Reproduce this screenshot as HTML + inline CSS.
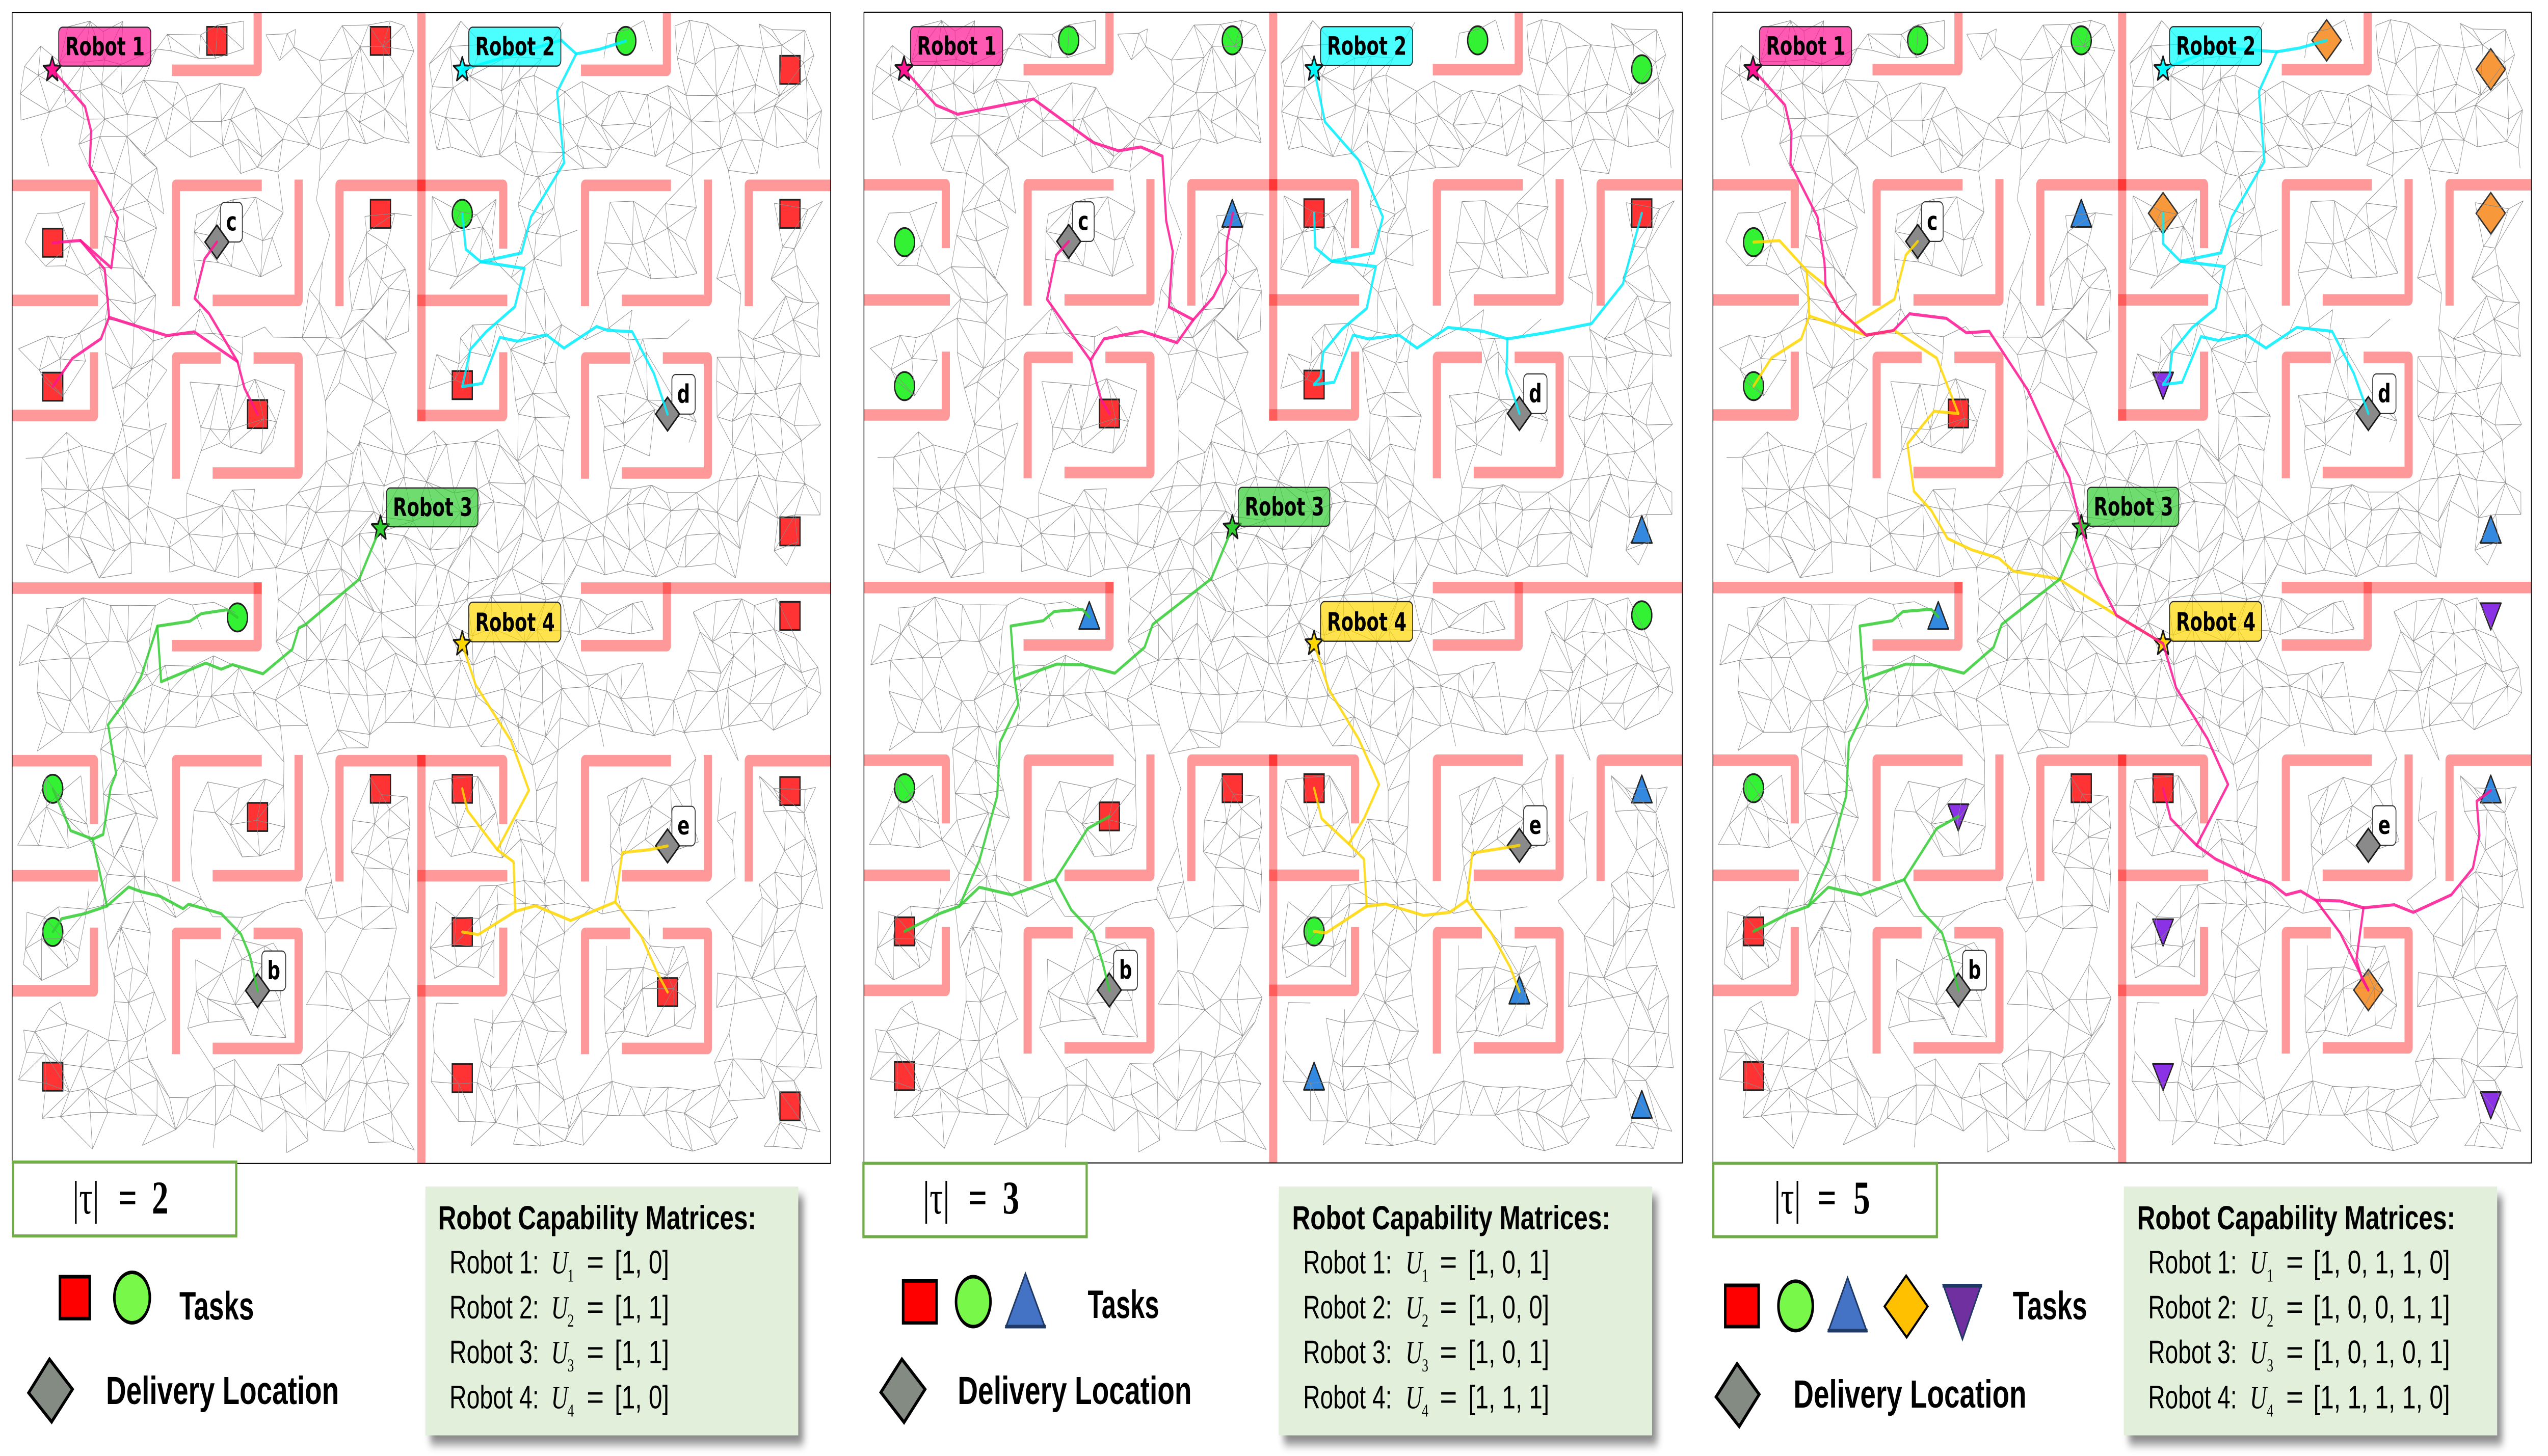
<!DOCTYPE html>
<html><head><meta charset="utf-8"><title>Multi-robot task allocation maps</title>
<style>
html,body{margin:0;padding:0;background:#fff;width:100%;height:100%;overflow:hidden;}
svg#root{display:block;position:absolute;left:0;top:0;width:100vw;height:100vh}
.sq{fill:#ff3333;stroke:#222;stroke-width:2.2}
.ci{fill:#33f233;stroke:#222;stroke-width:2.4}
.tu{fill:#3388e0;stroke:#222;stroke-width:2.2;stroke-linejoin:round}
.td{fill:#8c32e6;stroke:#222;stroke-width:2.2;stroke-linejoin:round}
.od{fill:#f7983a;stroke:#333;stroke-width:2.2}
.gd{fill:#8a8a8a;stroke:#1a1a1a;stroke-width:2.4}
.lb{fill:#fff;stroke:#333;stroke-width:1.5}
.lt{font-family:"DejaVu Sans","Liberation Sans",sans-serif;font-weight:bold;font-size:33.5px;fill:#000}
.mesh{fill:none;stroke:#8a8a8a;stroke-width:0.75}
.pk,.cy,.gr,.ye{fill:none;stroke-width:4;stroke-linejoin:round;stroke-linecap:round}
.pk{stroke:#ff1493;stroke-opacity:0.85}
.cy{stroke:#00eeff;stroke-opacity:0.85}
.gr{stroke:#32cd32;stroke-opacity:0.85}
.ye{stroke:#ffd700;stroke-opacity:0.85}
.st{stroke:#1a1a1a;stroke-width:2.6;stroke-linejoin:round}
.rl{stroke:#2a2a2a;stroke-width:1.6}
.bd{fill:none;stroke:#000;stroke-width:1.4}
.sans{font-family:"Liberation Sans",Arial,sans-serif}
.serif{font-family:"Liberation Serif","Times New Roman",serif}
</style></head>
<body>
<svg id="root" viewBox="0 0 7032 2858" preserveAspectRatio="none" xmlns="http://www.w3.org/2000/svg">
<defs>
  <clipPath id="cu"><rect x="0" y="0" width="10" height="10"/></clipPath>
  <g id="quad">
    <polyline points="2,0.5 3,0.5 3,0"/>
    <polyline points="0,1.5 1,1.5 1,2"/>
    <polyline points="0,2.5 1,2.5"/>
    <polyline points="2,2.5 2,1.5 3,1.5"/>
    <polyline points="3.5,1.5 3.5,2.5 2.5,2.5"/>
    <polyline points="4,2.5 4,1.5 5,1.5"/>
    <polyline points="1,3 1,3.5 0,3.5"/>
    <polyline points="2,4 2,3 2.5,3"/>
    <polyline points="3,3 3.5,3 3.5,4 2.5,4"/>
  </g>
  <g id="walls" transform="translate(27,16) scale(151.1)" fill="none" stroke="#ff0000" stroke-opacity="0.4" stroke-width="0.1" stroke-linecap="square" stroke-linejoin="round" clip-path="url(#cu)">
    <use href="#quad"/>
    <use href="#quad" transform="translate(5,0)"/>
    <use href="#quad" transform="translate(0,5)"/>
    <use href="#quad" transform="translate(5,5)"/>
    <path d="M5,0V3.5M5,6.5V10M0,5H3M7,5H10"/>
  </g>
  <rect id="sQ" x="-18.5" y="-18.5" width="37" height="37"/>
  <circle id="cI" cx="0" cy="0" r="18.5"/>
  <path id="tU" d="M0,-20L19,16L-19,16Z"/>
  <path id="tD" d="M-19,-16L19,-16L0,19Z"/>
  <path id="oD" d="M0,-27L27,0L0,27L-27,0Z"/>
  <path id="gD" d="M0,-22L22,0L0,22L-22,0Z"/>
  <path id="star" d="M0,-17L4.3,-5.9L16.2,-5.3L6.9,2.2L10,13.8L0,7.2L-10,13.8L-6.9,2.2L-16.2,-5.3L-4.3,-5.9Z"/>
  <filter id="sh" x="-5%" y="-5%" width="115%" height="125%">
    <feDropShadow dx="14" dy="18" stdDeviation="9" flood-color="#000" flood-opacity="0.45"/>
  </filter>
</defs>
<rect width="7032" height="2858" fill="#fff"/>

<!-- ================= PANEL 1 ================= -->
<g transform="translate(-6.86,1.08) scale(1.4949)">
  <use href="#walls"/>
  <g>
    <use href="#sQ" class="sq" x="405" y="53"/><use href="#sQ" class="sq" x="707" y="53"/>
    <use href="#sQ" class="sq" x="102" y="318"/><use href="#sQ" class="sq" x="707" y="280"/>
    <use href="#sQ" class="sq" x="102" y="507"/><use href="#sQ" class="sq" x="480" y="543"/>
    <use href="#sQ" class="sq" x="1463" y="91"/><use href="#sQ" class="sq" x="1463" y="280"/>
    <use href="#sQ" class="sq" x="858" y="505"/><use href="#sQ" class="sq" x="1463" y="697"/>
    <use href="#sQ" class="sq" x="1463" y="808"/><use href="#sQ" class="sq" x="707" y="1035"/>
    <use href="#sQ" class="sq" x="858" y="1035"/><use href="#sQ" class="sq" x="1463" y="1038"/>
    <use href="#sQ" class="sq" x="858" y="1223"/><use href="#sQ" class="sq" x="1237" y="1302"/>
    <use href="#sQ" class="sq" x="858" y="1415"/><use href="#sQ" class="sq" x="1463" y="1452"/>
    <use href="#sQ" class="sq" x="480" y="1072"/><use href="#sQ" class="sq" x="102" y="1413"/>
    <use href="#cI" class="ci" x="1160" y="53"/><use href="#cI" class="ci" x="858" y="280"/>
    <use href="#cI" class="ci" x="443" y="810"/><use href="#cI" class="ci" x="102" y="1035"/>
    <use href="#cI" class="ci" x="102" y="1223"/>
  </g>
  <path class="mesh" d=""/>
  <g>
    <rect class="lb" x="412" y="265" width="40" height="52" rx="7"/>
    <rect class="lb" x="1245" y="491" width="43" height="52" rx="7"/>
    <rect class="lb" x="1245" y="1058" width="43" height="52" rx="7"/>
    <rect class="lb" x="488" y="1248" width="44" height="52" rx="7"/>
    <text class="lt" x="432" y="302" text-anchor="middle">c</text>
    <text class="lt" x="1266.5" y="528" text-anchor="middle">d</text>
    <text class="lt" x="1266.5" y="1095" text-anchor="middle">e</text>
    <text class="lt" x="510" y="1285" text-anchor="middle">b</text>
    <use href="#gD" class="gd" x="405" y="317"/><use href="#gD" class="gd" x="1237" y="543"/>
    <use href="#gD" class="gd" x="1237" y="1110"/><use href="#gD" class="gd" x="480" y="1300"/>
  </g>
  <use href="#star" class="st" x="101" y="91" fill="#ff1493"/>
  <use href="#star" class="st" x="858" y="91" fill="#00ffff"/>
  <use href="#star" class="st" x="707" y="693" fill="#32cd32"/>
  <use href="#star" class="st" x="858" y="845" fill="#ffd700"/>
  <g>
    <polyline class="pk" points="102,91 161.5,139.3 173,172 170,217 222,285 210,351 153,315 102,318"/>
    <polyline class="pk" points="153,315 198,353 206,416 191,444 138,470 102,507"/>
    <polyline class="pk" points="206,416 312.5,440 363,435 443,474 456,509 480,543"/>
    <polyline class="pk" points="443,474 390.5,411 364,391 382.5,339 405,317"/>
    <polyline class="cy" points="858,91 1040.7,52 1068.4,70 1111,64 1160,53"/>
    <polyline class="cy" points="1068.4,70 1033,120 1046,213 985,284 967,331.5 892,343 864.5,326.5 858,280"/>
    <polyline class="cy" points="892,343 972.8,351.7 955,402 902,435 873,458 858,507"/>
    <polyline class="cy" points="858,507 894.7,502.7 927.4,442.3 960,447.3 1013,438.8 1045.7,456.4 1106,428 1126,433 1171.6,434.8 1212,490 1237,543"/>
    <polyline class="gr" points="705,695 667.5,760 569,819 556,824 544,852 490,884 434,872 413,878 384.5,870 302,894.5 295,821.5 355,815 376.5,805 423,800 443,810"/>
    <polyline class="gr" points="295,821.5 264.7,888.4 252,904.5 204,951 219,1015 209,1033 195,1095 175.6,1101 135,1090 102,1035"/>
    <polyline class="gr" points="175.6,1101 202,1189 242,1164 264.7,1170 300,1176 342.7,1192.5 352.8,1186.5 413,1199 449.5,1226 466,1254.5 480,1300"/>
    <polyline class="gr" points="202,1189 160.5,1199 118.7,1205.6 102,1223"/>
    <polyline class="ye" points="858,845 882.6,898.5 948,972 981,1037 922.7,1115"/>
    <polyline class="ye" points="858,1035 867.6,1063.6 922.7,1115 952.8,1131 955.8,1196 993,1188.5 1058,1208 1140.5,1183.6 1153.5,1118.7 1203.7,1115 1237,1110"/>
    <polyline class="ye" points="858,1223 887.6,1226.4 955.8,1196"/>
    <polyline class="ye" points="1140.5,1183.6 1188.6,1228.8 1218.7,1277.6 1237,1302"/>
  </g>
  <g>
    <rect class="rl" x="113" y="35" width="170" height="51" rx="7" fill="#ff1493" fill-opacity="0.7"/>
    <text class="lt" x="125" y="72">Robot 1</text>
    <rect class="rl" x="870" y="35" width="170" height="51" rx="7" fill="#00ffff" fill-opacity="0.7"/>
    <text class="lt" x="882" y="72">Robot 2</text>
    <rect class="rl" x="718" y="640" width="169" height="51" rx="7" fill="#32cd32" fill-opacity="0.7"/>
    <text class="lt" x="730" y="677">Robot 3</text>
    <rect class="rl" x="870" y="790" width="170" height="52" rx="7" fill="#ffd700" fill-opacity="0.7"/>
    <text class="lt" x="882" y="828">Robot 4</text>
  </g>
  <rect class="bd" x="27" y="16" width="1511" height="1511"/>
</g>

<!-- ================= PANEL 2 ================= -->
<g transform="translate(2344,0) scale(1.4949)">
  <use href="#walls"/>
  <g>
    <use href="#cI" class="ci" x="405" y="53"/><use href="#cI" class="ci" x="707" y="53"/>
    <use href="#cI" class="ci" x="1160" y="53"/><use href="#cI" class="ci" x="1463" y="91"/>
    <use href="#cI" class="ci" x="102" y="318"/><use href="#cI" class="ci" x="102" y="507"/>
    <use href="#cI" class="ci" x="1463" y="808"/><use href="#cI" class="ci" x="102" y="1035"/>
    <use href="#cI" class="ci" x="858" y="1223"/>
    <use href="#tU" class="tu" x="707" y="282"/><use href="#tU" class="tu" x="1463" y="697"/>
    <use href="#tU" class="tu" x="443" y="810"/><use href="#tU" class="tu" x="1463" y="1038"/>
    <use href="#tU" class="tu" x="1237" y="1302"/><use href="#tU" class="tu" x="858" y="1415"/>
    <use href="#tU" class="tu" x="1463" y="1452"/>
    <use href="#sQ" class="sq" x="858" y="280"/><use href="#sQ" class="sq" x="1463" y="280"/>
    <use href="#sQ" class="sq" x="480" y="543"/><use href="#sQ" class="sq" x="858" y="505"/>
    <use href="#sQ" class="sq" x="480" y="1072"/><use href="#sQ" class="sq" x="707" y="1035"/>
    <use href="#sQ" class="sq" x="858" y="1035"/><use href="#sQ" class="sq" x="102" y="1223"/>
    <use href="#sQ" class="sq" x="102" y="1413"/>
  </g>
  <path class="mesh" d=""/>
  <g>
    <rect class="lb" x="412" y="265" width="40" height="52" rx="7"/>
    <rect class="lb" x="1245" y="491" width="43" height="52" rx="7"/>
    <rect class="lb" x="1245" y="1058" width="43" height="52" rx="7"/>
    <rect class="lb" x="488" y="1248" width="44" height="52" rx="7"/>
    <text class="lt" x="432" y="302" text-anchor="middle">c</text>
    <text class="lt" x="1266.5" y="528" text-anchor="middle">d</text>
    <text class="lt" x="1266.5" y="1095" text-anchor="middle">e</text>
    <text class="lt" x="510" y="1285" text-anchor="middle">b</text>
    <use href="#gD" class="gd" x="405" y="317"/><use href="#gD" class="gd" x="1237" y="543"/>
    <use href="#gD" class="gd" x="1237" y="1110"/><use href="#gD" class="gd" x="480" y="1300"/>
  </g>
  <use href="#star" class="st" x="101" y="91" fill="#ff1493"/>
  <use href="#star" class="st" x="858" y="91" fill="#00ffff"/>
  <use href="#star" class="st" x="707" y="693" fill="#32cd32"/>
  <use href="#star" class="st" x="858" y="845" fill="#ffd700"/>
  <g>
    <polyline class="pk" points="101,91 160,138 200,150 340,130 450,187 497,198 538,193 578,205 585,290 597,330 590,403 635,420 672,390 695,358 697,318 708,280"/>
    <polyline class="pk" points="635,420 605,450 540,435 470,445 445,473 365,393 382,335 405,317"/>
    <polyline class="pk" points="445,473 465,525 480,543"/>
    <polyline class="cy" points="858,91 878,160 940,210 985,285 968,332 890,343 860,325 858,280"/>
    <polyline class="cy" points="890,343 972,350 955,405 910,432 875,462 870,495 858,505"/>
    <polyline class="cy" points="858,505 895,502 930,440 958,445 1015,440 1048,457 1105,430 1170,435 1215,445 1285,437 1370,425 1428,373 1463,280"/>
    <polyline class="cy" points="1215,445 1213,490 1237,543"/>
    <polyline class="gr" points="707,693 668,760 560,820 545,850 490,884 432,873 383,872 305,892 298,822 358,815 378,803 430,800 443,810"/>
    <polyline class="gr" points="305,892 312,925 278,975 273,1045 240,1130 203,1190 165,1200 102,1223"/>
    <polyline class="gr" points="203,1190 240,1165 300,1175 380,1155 440,1088 480,1072"/>
    <polyline class="gr" points="380,1155 410,1195 450,1225 468,1265 480,1300"/>
    <polyline class="ye" points="858,845 885,905 940,970 978,1030 950,1075 922,1108"/>
    <polyline class="ye" points="858,1035 872,1075 922,1108 950,1128 955,1190 990,1187 1060,1202 1108,1198 1140,1182 1150,1120 1195,1115 1237,1110"/>
    <polyline class="ye" points="858,1223 880,1225 955,1190"/>
    <polyline class="ye" points="1140,1182 1185,1225 1220,1270 1237,1302"/>
  </g>
  <g>
    <rect class="rl" x="113" y="35" width="170" height="51" rx="7" fill="#ff1493" fill-opacity="0.7"/>
    <text class="lt" x="125" y="72">Robot 1</text>
    <rect class="rl" x="870" y="35" width="170" height="51" rx="7" fill="#00ffff" fill-opacity="0.7"/>
    <text class="lt" x="882" y="72">Robot 2</text>
    <rect class="rl" x="718" y="640" width="169" height="51" rx="7" fill="#32cd32" fill-opacity="0.7"/>
    <text class="lt" x="730" y="677">Robot 3</text>
    <rect class="rl" x="870" y="790" width="170" height="52" rx="7" fill="#ffd700" fill-opacity="0.7"/>
    <text class="lt" x="882" y="828">Robot 4</text>
  </g>
  <rect class="bd" x="27" y="16" width="1511" height="1511"/>
</g>

<!-- ================= PANEL 3 ================= -->
<g transform="translate(4687,0) scale(1.4949)">
  <use href="#walls"/>
  <g>
    <use href="#cI" class="ci" x="405" y="53"/><use href="#cI" class="ci" x="707" y="53"/>
    <use href="#cI" class="ci" x="102" y="318"/><use href="#cI" class="ci" x="102" y="507"/>
    <use href="#cI" class="ci" x="102" y="1035"/>
    <use href="#oD" class="od" x="1160" y="53"/><use href="#oD" class="od" x="1463" y="91"/>
    <use href="#oD" class="od" x="858" y="280"/><use href="#oD" class="od" x="1463" y="280"/>
    <use href="#oD" class="od" x="1237" y="1300"/>
    <use href="#tU" class="tu" x="707" y="282"/><use href="#tU" class="tu" x="1463" y="697"/>
    <use href="#tU" class="tu" x="443" y="810"/><use href="#tU" class="tu" x="1463" y="1038"/>
    <use href="#tD" class="td" x="858" y="505"/><use href="#tD" class="td" x="1463" y="808"/>
    <use href="#tD" class="td" x="480" y="1072"/><use href="#tD" class="td" x="858" y="1223"/>
    <use href="#tD" class="td" x="858" y="1413"/><use href="#tD" class="td" x="1463" y="1450"/>
    <use href="#sQ" class="sq" x="480" y="543"/><use href="#sQ" class="sq" x="707" y="1035"/>
    <use href="#sQ" class="sq" x="858" y="1035"/><use href="#sQ" class="sq" x="102" y="1223"/>
    <use href="#sQ" class="sq" x="102" y="1413"/>
  </g>
  <path class="mesh" d=""/>
  <g>
    <rect class="lb" x="412" y="265" width="40" height="52" rx="7"/>
    <rect class="lb" x="1245" y="491" width="43" height="52" rx="7"/>
    <rect class="lb" x="1245" y="1058" width="43" height="52" rx="7"/>
    <rect class="lb" x="488" y="1248" width="44" height="52" rx="7"/>
    <text class="lt" x="432" y="302" text-anchor="middle">c</text>
    <text class="lt" x="1266.5" y="528" text-anchor="middle">d</text>
    <text class="lt" x="1266.5" y="1095" text-anchor="middle">e</text>
    <text class="lt" x="510" y="1285" text-anchor="middle">b</text>
    <use href="#gD" class="gd" x="405" y="317"/><use href="#gD" class="gd" x="1237" y="543"/>
    <use href="#gD" class="gd" x="1237" y="1110"/><use href="#gD" class="gd" x="480" y="1300"/>
  </g>
  <use href="#star" class="st" x="101" y="91" fill="#ff1493"/>
  <use href="#star" class="st" x="858" y="91" fill="#00ffff"/>
  <use href="#star" class="st" x="707" y="693" fill="#32cd32"/>
  <use href="#star" class="st" x="858" y="845" fill="#ffd700"/>
  <g>
    <polyline class="ye" points="102,318 150,316 200,355 205,415 190,445 135,470 102,507"/>
    <polyline class="ye" points="200,355 235,375 262,408 310,440"/>
    <polyline class="ye" points="205,415 310,440 362,434 440,470 480,543"/>
    <polyline class="ye" points="290,425 362,393 383,335 405,317"/>
    <polyline class="ye" points="480,543 435,540 386,583 398,645 430,670 460,707 505,722 555,733 582,750 665,760 772,808 858,845"/>
    <polyline class="gr" points="707,693 668,760 560,820 545,850 490,884 432,873 383,872 305,892 298,822 358,815 378,803 430,800 443,810"/>
    <polyline class="gr" points="305,892 312,925 278,975 273,1045 240,1130 203,1190 165,1200 102,1223"/>
    <polyline class="gr" points="203,1190 240,1165 300,1175 380,1155 440,1088 480,1072"/>
    <polyline class="gr" points="380,1155 410,1195 450,1225 468,1265 480,1300"/>
    <polyline class="cy" points="858,91 960,62 1068,68 1110,63 1160,53"/>
    <polyline class="cy" points="1068,68 1035,120 1045,212 985,285 965,332 890,343 858,320 858,280"/>
    <polyline class="cy" points="890,343 972,350 955,405 912,430 875,462 870,492 858,505"/>
    <polyline class="cy" points="858,505 893,502 928,442 960,447 1012,440 1048,457 1105,430 1170,435 1210,490 1237,543"/>
    <polyline class="pk" points="101,91 160,138 172,175 170,215 220,285 233,345 235,375 262,408 310,440 360,434 390,412 458,418 495,437 537,435 608,512 655,585 685,627 707,693 738,760 772,808 858,845 882,903 940,970 978,1030 920,1110 955,1128 1020,1150 1058,1160 1085,1175 1112,1170 1140,1182 1185,1183 1228,1192 1285,1188 1320,1198 1390,1175 1430,1140 1442,1097 1437,1052 1463,1038"/>
    <polyline class="pk" points="858,1035 872,1075 920,1110"/>
    <polyline class="pk" points="1140,1182 1185,1225 1237,1300"/>
    <polyline class="pk" points="1228,1192 1215,1260 1225,1285 1237,1300"/>
  </g>
  <g>
    <rect class="rl" x="113" y="35" width="170" height="51" rx="7" fill="#ff1493" fill-opacity="0.7"/>
    <text class="lt" x="125" y="72">Robot 1</text>
    <rect class="rl" x="870" y="35" width="170" height="51" rx="7" fill="#00ffff" fill-opacity="0.7"/>
    <text class="lt" x="882" y="72">Robot 2</text>
    <rect class="rl" x="718" y="640" width="169" height="51" rx="7" fill="#32cd32" fill-opacity="0.7"/>
    <text class="lt" x="730" y="677">Robot 3</text>
    <rect class="rl" x="870" y="790" width="170" height="52" rx="7" fill="#ffd700" fill-opacity="0.7"/>
    <text class="lt" x="882" y="828">Robot 4</text>
  </g>
  <rect class="bd" x="27" y="16" width="1511" height="1511"/>
</g>

<!-- ================= LEGENDS ================= -->
<!-- Panel 1 -->
<rect x="36" y="2281" width="616" height="145" fill="#fff" stroke="#70ad47" stroke-width="6"/>
<text class="serif" x="200" y="2382" font-size="92">|τ|</text>
<text class="serif" x="326" y="2382" font-size="92" font-weight="bold">=</text>
<text class="serif" x="419" y="2382" font-size="92" font-weight="bold">2</text>
<rect x="165.5" y="2506" width="82" height="82.3" fill="#ff0000" stroke="#000" stroke-width="7"/>
<ellipse cx="364.5" cy="2547" rx="49" ry="49.5" fill="#78f848" stroke="#000" stroke-width="7"/>
<text class="sans" x="495" y="2590" font-size="78" font-weight="bold" textLength="206" lengthAdjust="spacingAndGlyphs">Tasks</text>
<path d="M136.5,2668L200,2727L142.5,2791L79,2734Z" fill="#838b83" stroke="#000" stroke-width="7" stroke-linejoin="miter"/>
<text class="sans" x="292.5" y="2756" font-size="77" font-weight="bold" textLength="643" lengthAdjust="spacingAndGlyphs">Delivery Location</text>
<rect x="1174" y="2329" width="1029" height="488.5" fill="#e2efda" filter="url(#sh)"/>
<text class="sans" x="1209" y="2413" font-size="66" font-weight="bold" textLength="878" lengthAdjust="spacingAndGlyphs">Robot Capability Matrices:</text>
<g class="sans" font-size="64">
  <text x="1240.5" y="2499.5" textLength="247" lengthAdjust="spacingAndGlyphs">Robot 1:</text>
  <text x="1240.5" y="2588" textLength="247" lengthAdjust="spacingAndGlyphs">Robot 2:</text>
  <text x="1240.5" y="2675.8" textLength="247" lengthAdjust="spacingAndGlyphs">Robot 3:</text>
  <text x="1240.5" y="2764.3" textLength="247" lengthAdjust="spacingAndGlyphs">Robot 4:</text>
  <text x="1619" y="2499.5" textLength="48" lengthAdjust="spacingAndGlyphs">=</text>
  <text x="1619" y="2588" textLength="48" lengthAdjust="spacingAndGlyphs">=</text>
  <text x="1619" y="2675.8" textLength="48" lengthAdjust="spacingAndGlyphs">=</text>
  <text x="1619" y="2764.3" textLength="48" lengthAdjust="spacingAndGlyphs">=</text>
  <text x="1696.5" y="2499.5" textLength="150" lengthAdjust="spacingAndGlyphs">[1, 0]</text>
  <text x="1696.5" y="2588" textLength="150" lengthAdjust="spacingAndGlyphs">[1, 1]</text>
  <text x="1696.5" y="2675.8" textLength="150" lengthAdjust="spacingAndGlyphs">[1, 1]</text>
  <text x="1696.5" y="2764.3" textLength="150" lengthAdjust="spacingAndGlyphs">[1, 0]</text>
</g>
<g class="serif">
  <text x="1521" y="2499.5" font-size="64" font-style="italic">U</text><text x="1566" y="2515.5" font-size="36">1</text>
  <text x="1521" y="2588" font-size="64" font-style="italic">U</text><text x="1566" y="2604" font-size="36">2</text>
  <text x="1521" y="2675.8" font-size="64" font-style="italic">U</text><text x="1566" y="2691.8" font-size="36">3</text>
  <text x="1521" y="2764.3" font-size="64" font-style="italic">U</text><text x="1566" y="2780.3" font-size="36">4</text>
</g>

<!-- Panel 2 -->
<rect x="2383" y="2283.5" width="616" height="144" fill="#fff" stroke="#70ad47" stroke-width="6"/>
<text class="serif" x="2547" y="2382" font-size="92">|τ|</text>
<text class="serif" x="2672" y="2382" font-size="92" font-weight="bold">=</text>
<text class="serif" x="2767" y="2382" font-size="92" font-weight="bold">3</text>
<rect x="2492.5" y="2514.5" width="92" height="82" fill="#ff0000" stroke="#000" stroke-width="7"/>
<ellipse cx="2686" cy="2555" rx="47.5" ry="49" fill="#78f848" stroke="#000" stroke-width="7"/>
<path d="M2830,2500L2884,2605L2776,2605Z" fill="#4472c4" stroke="#1f3864" stroke-width="4" stroke-linejoin="miter"/>
<line x1="2774" y1="2604" x2="2886" y2="2604" stroke="#1f3864" stroke-width="7"/>
<text class="sans" x="3002" y="2587" font-size="78" font-weight="bold" textLength="197" lengthAdjust="spacingAndGlyphs">Tasks</text>
<path d="M2489,2668L2553,2727L2495,2792L2431,2733Z" fill="#838b83" stroke="#000" stroke-width="7"/>
<text class="sans" x="2643" y="2756" font-size="77" font-weight="bold" textLength="646" lengthAdjust="spacingAndGlyphs">Delivery Location</text>
<rect x="3529.4" y="2329" width="1030" height="488.5" fill="#e2efda" filter="url(#sh)"/>
<text class="sans" x="3566" y="2413" font-size="66" font-weight="bold" textLength="878" lengthAdjust="spacingAndGlyphs">Robot Capability Matrices:</text>
<g class="sans" font-size="64">
  <text x="3596.5" y="2499.5" textLength="245" lengthAdjust="spacingAndGlyphs">Robot 1:</text>
  <text x="3596.5" y="2588" textLength="245" lengthAdjust="spacingAndGlyphs">Robot 2:</text>
  <text x="3596.5" y="2675.8" textLength="245" lengthAdjust="spacingAndGlyphs">Robot 3:</text>
  <text x="3596.5" y="2764.3" textLength="245" lengthAdjust="spacingAndGlyphs">Robot 4:</text>
  <text x="3973.5" y="2499.5" textLength="48" lengthAdjust="spacingAndGlyphs">=</text>
  <text x="3973.5" y="2588" textLength="48" lengthAdjust="spacingAndGlyphs">=</text>
  <text x="3973.5" y="2675.8" textLength="48" lengthAdjust="spacingAndGlyphs">=</text>
  <text x="3973.5" y="2764.3" textLength="48" lengthAdjust="spacingAndGlyphs">=</text>
  <text x="4052.5" y="2499.5" textLength="223" lengthAdjust="spacingAndGlyphs">[1, 0, 1]</text>
  <text x="4052.5" y="2588" textLength="223" lengthAdjust="spacingAndGlyphs">[1, 0, 0]</text>
  <text x="4052.5" y="2675.8" textLength="223" lengthAdjust="spacingAndGlyphs">[1, 0, 1]</text>
  <text x="4052.5" y="2764.3" textLength="223" lengthAdjust="spacingAndGlyphs">[1, 1, 1]</text>
</g>
<g class="serif">
  <text x="3879" y="2499.5" font-size="64" font-style="italic">U</text><text x="3924" y="2515.5" font-size="36">1</text>
  <text x="3879" y="2588" font-size="64" font-style="italic">U</text><text x="3924" y="2604" font-size="36">2</text>
  <text x="3879" y="2675.8" font-size="64" font-style="italic">U</text><text x="3924" y="2691.8" font-size="36">3</text>
  <text x="3879" y="2764.3" font-size="64" font-style="italic">U</text><text x="3924" y="2780.3" font-size="36">4</text>
</g>

<!-- Panel 3 -->
<rect x="4728.4" y="2283.5" width="617" height="144" fill="#fff" stroke="#70ad47" stroke-width="6"/>
<text class="serif" x="4896" y="2382" font-size="92">|τ|</text>
<text class="serif" x="5016" y="2382" font-size="92" font-weight="bold">=</text>
<text class="serif" x="5115" y="2382" font-size="92" font-weight="bold">5</text>
<rect x="4761.5" y="2523" width="92" height="81" fill="#ff0000" stroke="#000" stroke-width="7"/>
<ellipse cx="4955.6" cy="2563.4" rx="47.5" ry="48.5" fill="#78f848" stroke="#000" stroke-width="7"/>
<path d="M5099,2508L5152,2613L5046,2613Z" fill="#4472c4" stroke="#1f3864" stroke-width="4"/>
<line x1="5044" y1="2612" x2="5154" y2="2612" stroke="#1f3864" stroke-width="7"/>
<path d="M5260.6,2504L5320,2564.4L5262,2625L5201,2564.4Z" fill="#ffc000" stroke="#000" stroke-width="5"/>
<path d="M5363,2522L5468,2522L5416,2629Z" fill="#7030a0" stroke="#1f3864" stroke-width="4"/>
<line x1="5361" y1="2524" x2="5470" y2="2524" stroke="#1f3864" stroke-width="7"/>
<text class="sans" x="5555" y="2589.5" font-size="78" font-weight="bold" textLength="205" lengthAdjust="spacingAndGlyphs">Tasks</text>
<path d="M4794,2677L4855,2737L4800,2800L4736,2742Z" fill="#838b83" stroke="#000" stroke-width="7"/>
<text class="sans" x="4949.6" y="2763" font-size="77" font-weight="bold" textLength="643" lengthAdjust="spacingAndGlyphs">Delivery Location</text>
<rect x="5861.5" y="2329" width="1030" height="488.5" fill="#e2efda" filter="url(#sh)"/>
<text class="sans" x="5898" y="2413" font-size="66" font-weight="bold" textLength="878" lengthAdjust="spacingAndGlyphs">Robot Capability Matrices:</text>
<g class="sans" font-size="64">
  <text x="5928.5" y="2499.5" textLength="245" lengthAdjust="spacingAndGlyphs">Robot 1:</text>
  <text x="5928.5" y="2588" textLength="245" lengthAdjust="spacingAndGlyphs">Robot 2:</text>
  <text x="5928.5" y="2675.8" textLength="245" lengthAdjust="spacingAndGlyphs">Robot 3:</text>
  <text x="5928.5" y="2764.3" textLength="245" lengthAdjust="spacingAndGlyphs">Robot 4:</text>
  <text x="6309" y="2499.5" textLength="48" lengthAdjust="spacingAndGlyphs">=</text>
  <text x="6309" y="2588" textLength="48" lengthAdjust="spacingAndGlyphs">=</text>
  <text x="6309" y="2675.8" textLength="48" lengthAdjust="spacingAndGlyphs">=</text>
  <text x="6309" y="2764.3" textLength="48" lengthAdjust="spacingAndGlyphs">=</text>
  <text x="6384.5" y="2499.5" textLength="377" lengthAdjust="spacingAndGlyphs">[1, 0, 1, 1, 0]</text>
  <text x="6384.5" y="2588" textLength="377" lengthAdjust="spacingAndGlyphs">[1, 0, 0, 1, 1]</text>
  <text x="6384.5" y="2675.8" textLength="377" lengthAdjust="spacingAndGlyphs">[1, 0, 1, 0, 1]</text>
  <text x="6384.5" y="2764.3" textLength="377" lengthAdjust="spacingAndGlyphs">[1, 1, 1, 1, 0]</text>
</g>
<g class="serif">
  <text x="6209" y="2499.5" font-size="64" font-style="italic">U</text><text x="6256" y="2515.5" font-size="36">1</text>
  <text x="6209" y="2588" font-size="64" font-style="italic">U</text><text x="6256" y="2604" font-size="36">2</text>
  <text x="6209" y="2675.8" font-size="64" font-style="italic">U</text><text x="6256" y="2691.8" font-size="36">3</text>
  <text x="6209" y="2764.3" font-size="64" font-style="italic">U</text><text x="6256" y="2780.3" font-size="36">4</text>
</g>
</svg>

<script>
(function(){
  var U=151.1,X0=27,Y0=16,R=[];
  var Q=[[2,0.5,3,0.5],[3,0,3,0.5],[0,1.5,1,1.5],[1,1.5,1,2],[0,2.5,1,2.5],[2,1.5,2,2.5],[2,1.5,3,1.5],[3.5,1.5,3.5,2.5],[2.5,2.5,3.5,2.5],[4,1.5,4,2.5],[4,1.5,5,1.5],[1,3,1,3.5],[0,3.5,1,3.5],[2,3,2,4],[2,3,2.5,3],[3,3,3.5,3],[3.5,3,3.5,4],[2.5,4,3.5,4]];
  function add(a,b,c,d){var h=0.05;R.push([X0+(Math.min(a,c)-h)*U,Y0+(Math.min(b,d)-h)*U,X0+(Math.max(a,c)+h)*U,Y0+(Math.max(b,d)+h)*U]);}
  [[0,0],[5,0],[0,5],[5,5]].forEach(function(o){Q.forEach(function(w){add(w[0]+o[0],w[1]+o[1],w[2]+o[0],w[3]+o[1]);});});
  add(5,0,5,3.5);add(5,6.5,5,10);add(0,5,3,5);add(7,5,10,5);
  var s=12345;function rnd(){s=(s*16807)%2147483647;return (s-1)/2147483646;}
  function inR(x,y,m){for(var i=0;i<R.length;i++){var r=R[i];if(x>r[0]-m&&x<r[2]+m&&y>r[1]-m&&y<r[3]+m)return true;}return false;}
  function hit1(x1,y1,x2,y2,r,m){var dx=x2-x1,dy=y2-y1,p=[-dx,dx,-dy,dy],q=[x1-(r[0]-m),(r[2]+m)-x1,y1-(r[1]-m),(r[3]+m)-y1],u0=0,u1=1;
    for(var k=0;k<4;k++){if(p[k]===0){if(q[k]<0)return false;}else{var t=q[k]/p[k];if(p[k]<0){if(t>u1)return false;if(t>u0)u0=t;}else{if(t<u0)return false;if(t<u1)u1=t;}}}return true;}
  function hit(a,b){for(var i=0;i<R.length;i++){if(hit1(a[0],a[1],b[0],b[1],R[i],1.5))return true;}return false;}
  var S=40,N=38,P=[];
  for(var j=0;j<N;j++){P.push([]);for(var i=0;i<N;i++){
    var x=42+i*S+(rnd()-0.5)*30,y=32+j*S+(rnd()-0.5)*30;var drop=rnd()<0.03;
    if(x>1524||y>1514||x<36||y<25||inR(x,y,5)||drop)P[j].push(null);else P[j].push([x,y]);}}
  var d=[];
  function e(a,b){if(a&&b&&!hit(a,b))d.push('M'+a[0].toFixed(1)+' '+a[1].toFixed(1)+'L'+b[0].toFixed(1)+' '+b[1].toFixed(1));}
  for(var j=0;j<N;j++)for(var i=0;i<N;i++){var a=P[j][i];
    if(i+1<N)e(a,P[j][i+1]);
    if(j+1<N)e(a,P[j+1][i]);
    if(i+1<N&&j+1<N){if(rnd()<0.5)e(a,P[j+1][i+1]);else e(P[j][i+1],P[j+1][i]);}}
  var str=d.join('');
  var els=document.querySelectorAll('path.mesh');
  for(var k=0;k<els.length;k++)els[k].setAttribute('d',str);
})();
</script>
</body></html>
